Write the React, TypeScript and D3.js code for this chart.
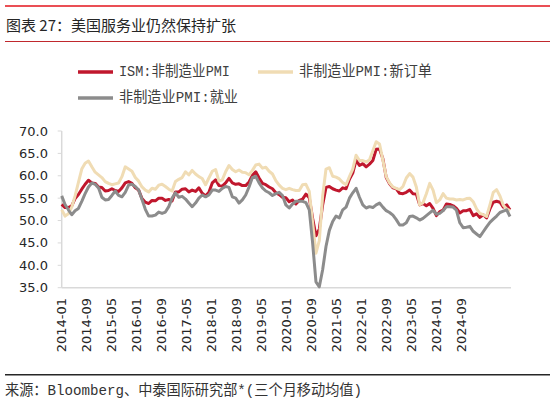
import React from 'react'
import * as d3 from 'd3'

// Monthly, 3-month moving average, 2014-01 .. 2025-03
const months = d3.timeMonth
  .range(new Date(2014, 0, 1), new Date(2025, 3, 1))
  .map(d3.timeFormat('%Y-%m'))

const ismPmi = [
  53.6, 52.9, 52.9, 53.3, 54.9, 55.8, 57.0, 58.1, 59.0, 58.4, 58.3, 57.5,
  57.4, 56.6, 56.7, 57.1, 56.7, 56.5, 57.3, 58.4, 58.7, 58.3, 57.3, 56.8,
  54.9, 54.1, 53.8, 54.5, 54.4, 55.0, 55.0, 54.5, 54.7, 54.4, 56.4, 56.4,
  57.0, 57.1, 56.4, 56.8, 56.5, 57.3, 56.1, 55.5, 56.3, 58.4, 59.1, 57.8,
  57.7, 58.4, 59.4, 58.4, 58.1, 58.2, 57.8, 57.8, 58.6, 60.1, 60.9, 59.5,
  58.3, 58.0, 57.5, 57.1, 56.2, 55.8, 55.2, 55.1, 54.2, 54.6, 53.7, 54.5,
  54.8, 55.9, 55.1, 50.5, 46.6, 48.1, 53.5, 57.4, 57.6, 57.1, 56.8, 56.6,
  57.3, 57.1, 59.2, 60.6, 63.5, 62.3, 62.7, 62.0, 62.6, 63.4, 65.9, 66.0,
  63.8, 59.6, 58.2, 57.3, 57.1, 56.1, 56.0, 56.3, 56.8, 56.0, 55.9, 53.5,
  53.8, 53.3, 53.8, 52.7, 51.1, 52.0, 52.3, 53.7, 53.6, 53.3, 52.7, 51.7,
  52.2, 52.2, 52.5, 51.1, 51.5, 50.7, 51.3, 50.6, 52.6, 54.1, 54.3, 54.1,
  53.0, 53.5, 52.4,
]

const newOrders = [
  52.4, 51.0, 51.5, 53.0, 55.5, 58.5, 61.5, 62.8, 63.3, 62.0, 60.8, 60.2,
  59.6, 58.7, 58.3, 58.0, 58.2, 58.4, 59.8, 62.0, 61.5, 61.0, 59.6, 58.8,
  57.5, 56.8, 56.4, 57.2, 57.0, 57.9, 58.1, 57.6, 57.0, 56.6, 58.7, 59.2,
  59.6, 60.9, 60.2, 61.2, 60.4, 59.8, 59.4, 58.0, 59.5, 61.0, 61.4, 58.8,
  59.1, 60.9, 62.3, 61.4, 60.9, 61.3, 60.8, 60.7, 60.2, 61.2, 62.4, 62.6,
  61.7, 61.9, 61.0, 60.4, 58.9, 57.9, 57.2, 56.9, 57.2, 56.9, 56.7, 56.7,
  58.0, 58.1, 56.5, 49.5, 42.7, 45.5, 55.5, 61.5, 61.8, 59.9, 59.7, 59.3,
  58.5, 58.0, 59.8, 61.5, 64.6, 63.4, 63.4, 63.1, 63.6, 65.6, 67.6, 67.1,
  63.5, 59.8, 58.4, 57.5, 57.2, 56.9, 57.6, 59.5, 60.5, 59.7, 57.5, 53.5,
  54.0, 56.0, 58.3, 56.8, 54.0, 54.6, 56.0, 55.0, 54.8, 54.8, 54.6, 54.7,
  54.6, 54.9, 55.0, 54.2, 52.6, 51.6, 51.3, 50.9, 53.5, 56.3, 56.9, 55.5,
  53.4, 52.6, 52.2,
]

const employment = [
  55.5, 53.6, 52.4, 51.3, 52.2, 52.7, 54.3, 56.0, 57.5, 58.4, 58.1, 57.3,
  55.2, 54.6, 54.7, 55.6, 56.6, 55.6, 55.3, 56.3, 57.9, 58.1, 57.6, 56.8,
  54.7, 52.5, 51.0, 51.0, 51.2, 51.9, 51.6, 51.9, 53.1, 55.0, 56.2, 55.2,
  55.4, 54.8, 53.9, 53.1, 53.9, 55.0, 55.7, 55.3, 55.7, 56.8, 56.8, 56.5,
  57.2, 57.6, 57.4, 55.3, 55.0, 53.9, 54.6, 55.7, 57.5, 59.6, 59.9, 58.4,
  57.3, 56.6, 56.2, 55.6, 56.0, 56.3, 55.6, 53.5, 52.8, 53.7, 54.3, 54.3,
  54.3, 54.0, 52.4, 45.0, 36.3, 35.2, 39.0, 44.2, 47.8, 49.8, 51.0, 50.6,
  52.4, 53.0, 55.0, 56.2, 57.2, 55.2, 53.5, 52.8, 53.1, 52.9, 53.5, 53.9,
  53.0, 52.2, 51.8, 51.2, 50.2, 49.0, 49.0, 49.5, 50.9, 51.0, 50.6, 50.1,
  50.5, 51.1, 51.7, 52.3, 51.4, 51.6, 52.2, 53.1, 53.1, 53.0, 52.3, 49.5,
  48.4, 48.5, 48.7, 47.6, 47.0, 46.4, 47.5, 48.6, 49.6, 50.3, 51.0, 51.8,
  52.1, 52.4, 50.9,
]

const tickLabels = [
  '2014-01', '2014-09', '2015-05', '2016-01', '2016-09', '2017-05',
  '2018-01', '2018-09', '2019-05', '2020-01', '2020-09', '2021-05',
  '2022-01', '2022-09', '2023-05', '2024-01', '2024-09',
]

const yTicks = [35, 40, 45, 50, 55, 60, 65, 70]

const series = [
  { name: 'ISM:非制造业PMI', values: ismPmi, color: '#c0172d' },
  { name: '非制造业PMI:新订单', values: newOrders, color: '#f0dcb4' },
  { name: '非制造业PMI:就业', values: employment, color: '#8c8c8c' },
]

const W = 556
const H = 405
const plot = { left: 61.7, right: 510, top: 131, bottom: 287.7 }
const cjk = '"Liberation Mono", "Noto Sans CJK SC", monospace'
const num = '"DejaVu Sans", sans-serif'

// legend layout: [x, y, text width]
const legendPos = [
  [78, 72, 111],
  [258, 72, 133],
  [78, 98, 119],
]

export default function App() {
  const x = d3.scalePoint<string>().domain(months).range([plot.left, plot.right])
  // the reference spreads its category labels a little tighter than the data
  const xLabel = d3.scalePoint<string>().domain(tickLabels).range([61.7, 461.7])
  const y = d3.scaleLinear().domain([35, 70]).range([plot.bottom, plot.top])

  const line = d3
    .line<number>()
    .x((_, i) => x(months[i]) as number)
    .y(d => y(d))

  return (
    <svg
      width={W}
      height={H}
      style={{ position: 'absolute', left: 0, top: 0, background: '#fff' }}
    >
      {/* header rules and title */}
      <line x1={5} x2={550} y1={6} y2={6} stroke="#e3141c" strokeWidth={1.5} />
      <text
        x={6}
        y={24.5}
        dominantBaseline="central"
        fontFamily='"Noto Sans CJK SC", sans-serif'
        fontSize={15}
        fill="#262626"
      >
        图表 27：美国服务业仍然保持扩张
      </text>
      <line x1={5} x2={550} y1={41.5} y2={41.5} stroke="#c0282d" strokeWidth={1.2} />

      {/* legend */}
      {series.map((s, i) => {
        const [lx, ly, tw] = legendPos[i]
        return (
          <g key={s.name}>
            <line x1={lx} x2={lx + 35} y1={ly} y2={ly} stroke={s.color} strokeWidth={3.5} />
            <text
              x={lx + 41}
              y={ly}
              dominantBaseline="central"
              fontFamily={cjk}
              fontSize={15}
              fill="#404040"
              textLength={tw}
              lengthAdjust="spacingAndGlyphs"
            >
              {s.name}
            </text>
          </g>
        )
      })}

      {/* y axis */}
      <line x1={plot.left} x2={plot.left} y1={plot.top} y2={plot.bottom} stroke="#d9d9d9" strokeWidth={1.5} />
      {yTicks.map(t => (
        <g key={t}>
          <line x1={plot.left - 4} x2={plot.left} y1={y(t)} y2={y(t)} stroke="#d9d9d9" strokeWidth={1} />
          <text
            x={48}
            y={y(t)}
            textAnchor="end"
            dominantBaseline="central"
            fontFamily={num}
            fontSize={13}
            fill="#262626"
          >
            {t.toFixed(1)}
          </text>
        </g>
      ))}

      {/* x axis */}
      <line x1={plot.left} x2={511} y1={plot.bottom} y2={plot.bottom} stroke="#d9d9d9" strokeWidth={1.5} />
      {tickLabels.map(t => (
        <text
          key={t}
          transform={`translate(${xLabel(t)},298) rotate(-90)`}
          textAnchor="end"
          dominantBaseline="central"
          fontFamily={num}
          fontSize={13}
          fill="#262626"
        >
          {t}
        </text>
      ))}

      {/* series */}
      {series.map(s => (
        <path
          key={s.name}
          d={line(s.values) as string}
          fill="none"
          stroke={s.color}
          strokeWidth={3}
          strokeLinejoin="round"
        />
      ))}

      {/* footer */}
      <line x1={5} x2={550} y1={374.7} y2={374.7} stroke="#262626" strokeWidth={1.5} />
      <text
        x={5}
        y={391.5}
        dominantBaseline="central"
        fontFamily={cjk}
        fontSize={15}
        fill="#333"
        textLength={357}
        lengthAdjust="spacingAndGlyphs"
      >
        来源：Bloomberg、中泰国际研究部*(三个月移动均值)
      </text>
    </svg>
  )
}
